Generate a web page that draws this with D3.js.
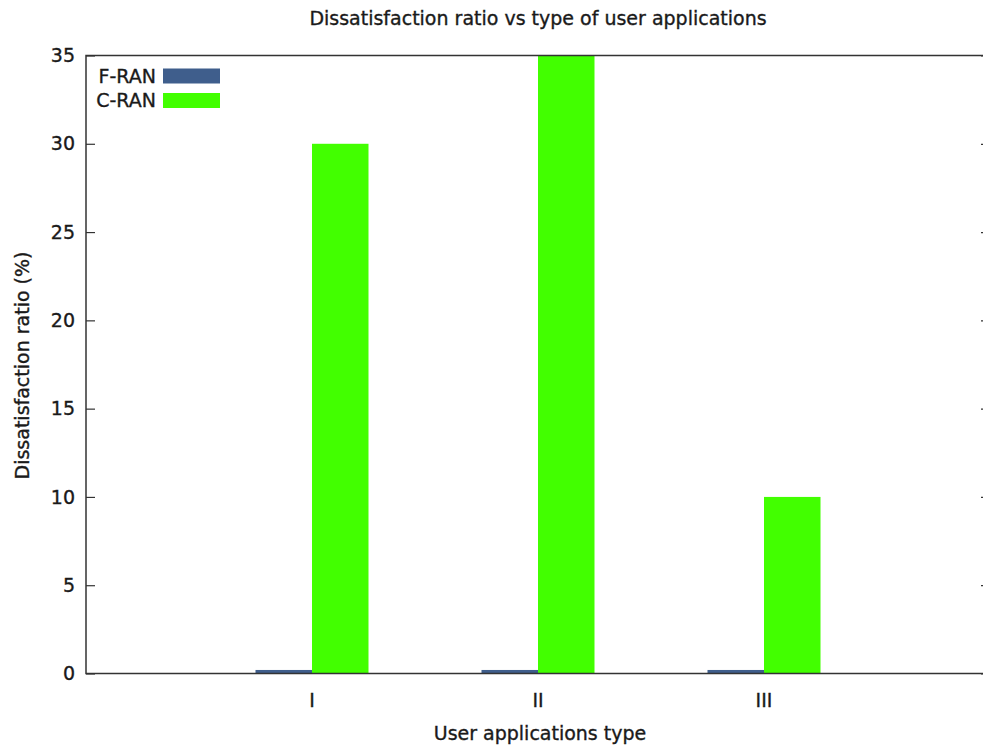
<!DOCTYPE html>
<html>
<head>
<meta charset="utf-8">
<script src="https://cdn.jsdelivr.net/npm/d3@7"></script>
<style>
  html, body { margin: 0; padding: 0; background: #fff; }
  svg { display: block; }
  text { font-family: "DejaVu Sans", Verdana, sans-serif; fill: #1a1a1a; stroke: #1a1a1a; stroke-width: 0.35px; }
</style>
</head>
<body>
<svg id="chart" width="983" height="746"></svg>
<script>
const categories = ["I", "II", "III"];
const seriesNames = ["F-RAN", "C-RAN"];
const fRanValues = [0.2, 0.2, 0.2];
const cRanValues = [30, 35, 10];
const yTicks = [0, 5, 10, 15, 20, 25, 30, 35];
const colors = ["#3f5e8c", "#42ff00"];
const titleText = "Dissatisfaction ratio vs type of user applications";
const xLabelText = "User applications type";
const yLabelText = "Dissatisfaction ratio (%)";

(function () {
const svg = d3.select("#chart");
const pLeft = 86, pRight = 990, pTop = 55.5, pBottom = 673.5;
const fs = 19;

const x = d3.scaleLinear().domain([-1, categories.length]).range([pLeft, pRight]);
const y = d3.scaleLinear().domain([0, 35]).range([pBottom, pTop]);
const barW = 0.25;

const series = [fRanValues, cRanValues];

// bars
series.forEach((vals, si) => {
  svg.append("g").selectAll("rect").data(vals).join("rect")
    .attr("x", (d, i) => x(i - barW + si * barW))
    .attr("width", x(barW) - x(0))
    .attr("y", d => y(d))
    .attr("height", d => y(0) - y(d))
    .attr("fill", colors[si]);
});

// frame
svg.append("rect")
  .attr("x", pLeft).attr("y", pTop)
  .attr("width", pRight - pLeft).attr("height", pBottom - pTop)
  .attr("fill", "none").attr("stroke", "#333").attr("stroke-width", 1.5);

// y axis left (inward ticks)
const yAxisL = d3.axisRight(y).tickValues(yTicks).tickSize(9).tickFormat("");
const gL = svg.append("g").attr("transform", `translate(${pLeft},0)`).call(yAxisL);
gL.select(".domain").remove();
gL.selectAll("line").attr("stroke", "#333").attr("stroke-width", 1.2);

const yAxisR = d3.axisLeft(y).tickValues(yTicks).tickSize(9).tickFormat("");
const gR = svg.append("g").attr("transform", `translate(${pRight},0)`).call(yAxisR);
gR.select(".domain").remove();
gR.selectAll("line").attr("stroke", "#333").attr("stroke-width", 1.2);

// y tick labels
svg.append("g").selectAll("text").data(yTicks).join("text")
  .attr("x", 75).attr("y", d => y(d))
  .attr("dy", "0.35em")
  .attr("text-anchor", "end")
  .attr("font-size", fs)
  .text(d => d);

// x tick labels
svg.append("g").selectAll("text").data(categories).join("text")
  .attr("x", (d, i) => x(i))
  .attr("y", 700).attr("dy", "0.35em")
  .attr("text-anchor", "middle")
  .attr("font-size", fs)
  .text(d => d);

// title
svg.append("text")
  .attr("x", x(1)).attr("y", 18).attr("dy", "0.35em")
  .attr("text-anchor", "middle").attr("font-size", fs)
  .text(titleText);

// x label
svg.append("text")
  .attr("x", x(1) + 2).attr("y", 733).attr("dy", "0.35em")
  .attr("text-anchor", "middle").attr("font-size", fs)
  .text(xLabelText);

// y label
svg.append("text")
  .attr("transform", `translate(22,${(pTop + pBottom) / 2 + 1}) rotate(-90)`)
  .attr("dy", "0.35em")
  .attr("text-anchor", "middle").attr("font-size", fs)
  .text(yLabelText);

// legend
const legend = svg.append("g");
seriesNames.forEach((name, i) => {
  const cy = 76 + i * 24.5;
  legend.append("text")
    .attr("x", 156).attr("y", cy).attr("dy", "0.35em")
    .attr("text-anchor", "end").attr("font-size", fs)
    .text(name);
  legend.append("rect")
    .attr("x", 163).attr("y", cy - 7.5)
    .attr("width", 57).attr("height", 15)
    .attr("fill", colors[i]);
});
})();
</script>
</body>
</html>
